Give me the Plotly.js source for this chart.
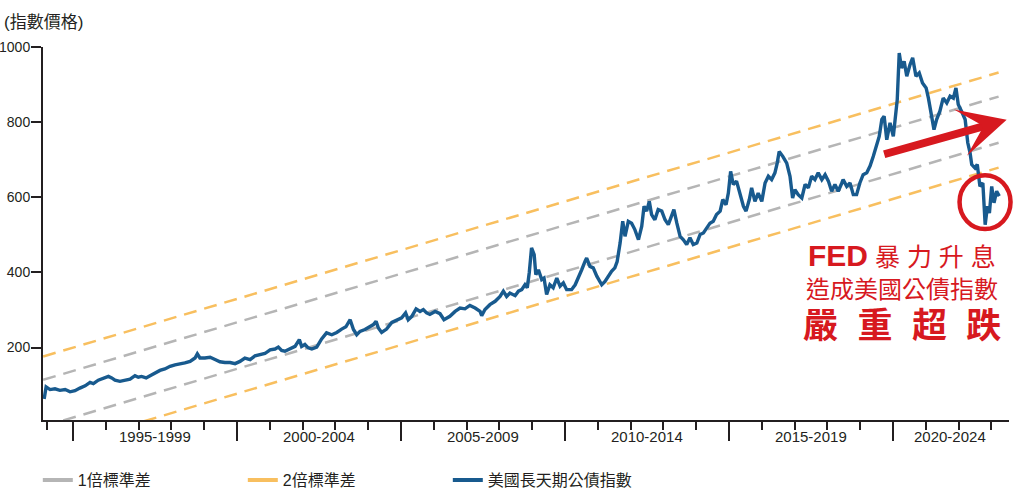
<!DOCTYPE html>
<html>
<head>
<meta charset="utf-8">
<script src="https://cdn.plot.ly/plotly-3.0.1.min.js"></script>
<style>html,body{margin:0;padding:0;background:#fff;}#chart{width:1022px;height:496px;}</style>
</head>
<body>
<div id="chart"></div>
<script>
// ---- data ----
const bondYears = [
1994.12,1994.18,1994.30,1994.45,1994.60,1994.76,1994.91,1995.06,1995.21,1995.37,1995.52,1995.62,1995.77,1995.92,
1996.08,1996.18,1996.28,1996.43,1996.59,1996.74,1996.89,1996.99,1997.09,1997.23,1997.35,1997.50,1997.65,1997.80,1997.96,
1998.11,1998.26,1998.41,1998.57,1998.72,1998.79,1998.87,1999.02,1999.18,1999.33,1999.48,1999.63,1999.79,1999.94,
2000.09,2000.24,2000.40,2000.55,2000.70,2000.85,2001.01,2001.16,2001.26,2001.36,2001.46,2001.62,2001.77,2001.90,2001.97,
2002.07,2002.17,2002.28,2002.43,2002.58,2002.73,2002.89,2003.04,2003.19,2003.32,2003.45,2003.55,2003.65,2003.75,2003.90,
2004.06,2004.16,2004.24,2004.31,2004.41,2004.56,2004.72,2004.87,2005.02,2005.14,2005.22,2005.33,2005.46,2005.58,2005.68,
2005.78,2005.88,2006.04,2006.19,2006.31,2006.44,2006.49,2006.65,2006.80,2006.95,2007.10,2007.26,2007.41,2007.46,2007.56,
2007.71,2007.87,2008.02,2008.12,2008.22,2008.32,2008.48,2008.58,2008.68,2008.78,2008.85,2008.91,2008.98,2009.06,2009.11,
2009.19,2009.29,2009.36,2009.44,2009.54,2009.64,2009.75,2009.85,2009.95,2010.05,2010.20,2010.31,2010.41,2010.51,2010.61,
2010.66,2010.76,2010.86,2010.97,2011.12,2011.22,2011.32,2011.42,2011.52,2011.59,2011.68,2011.76,2011.83,2011.93,2012.03,
2012.13,2012.24,2012.34,2012.41,2012.49,2012.57,2012.64,2012.74,2012.84,2012.95,2013.05,2013.15,2013.25,2013.32,2013.41,
2013.51,2013.61,2013.71,2013.81,2013.91,2014.02,2014.12,2014.22,2014.32,2014.42,2014.52,2014.62,2014.73,2014.81,2014.91,
2014.98,2015.05,2015.13,2015.23,2015.34,2015.44,2015.52,2015.62,2015.69,2015.79,2015.89,2016.00,2016.10,2016.20,2016.30,
2016.40,2016.47,2016.53,2016.64,2016.76,2016.86,2016.94,2017.01,2017.11,2017.22,2017.32,2017.42,2017.52,2017.62,2017.72,
2017.83,2017.93,2018.03,2018.13,2018.23,2018.33,2018.44,2018.48,2018.59,2018.69,2018.79,2018.89,2018.99,2019.09,2019.20,
2019.30,2019.40,2019.50,2019.58,2019.66,2019.73,2019.81,2019.91,2020.01,2020.06,2020.13,2020.19,2020.26,2020.34,2020.42,
2020.52,2020.60,2020.70,2020.80,2020.90,2021.01,2021.08,2021.18,2021.25,2021.33,2021.43,2021.53,2021.64,2021.74,2021.84,
2021.92,2021.99,2022.09,2022.20,2022.28,2022.35,2022.40,2022.50,2022.57,2022.65,2022.74,2022.81,2022.88,2022.94,2023.01,
2023.08,2023.16,2023.24
];
const bondIndex = [
63,95,88,90,86,88,82,85,92,98,107,104,113,119,
123,119,113,110,113,116,125,121,123,119,125,132,139,143,150,
154,156,159,163,172,183,172,172,174,168,162,160,160,157,
163,172,168,178,181,184,194,196,201,192,190,196,203,221,203,
208,199,196,201,223,239,234,240,249,255,274,248,234,243,248,
255,261,270,252,240,249,267,272,279,292,274,283,303,296,301,
292,288,296,290,274,279,283,296,305,303,312,305,296,285,301,
314,323,336,350,336,345,338,350,354,367,359,399,465,447,394,
407,381,385,341,367,359,385,363,372,354,354,367,390,407,429,
438,416,412,390,367,376,390,403,412,429,478,536,496,536,531,
514,487,523,576,563,589,554,540,567,563,540,527,554,567,531,
496,487,474,492,474,478,501,505,518,531,536,554,563,594,580,
611,669,634,643,607,576,563,594,625,589,611,589,638,656,647,
665,691,722,709,691,656,598,620,607,598,634,625,656,647,665,
647,660,643,616,634,616,638,647,629,638,607,607,638,660,665,
683,709,736,762,807,816,753,798,762,807,860,984,944,962,922,
953,971,922,931,904,891,864,807,780,807,829,864,851,869,864,
891,847,829,807,745,718,687,678,687,629,638,527,576,558,629,
585,616,603
];
// straight trend bands (start / end of the drawn span)
const bandYears = [1994.09, 2023.22];
const sd2Upper = [176, 932];
const sd1Upper = [114, 868];
const sd1Lower = [-10, 745];
const sd2Lower = [-76, 679];

const legendNames = ['1倍標準差', '2倍標準差', '美國長天期公債指數'];
const periodLabels = ['1995-1999', '2000-2004', '2005-2009', '2010-2014', '2015-2019', '2020-2024'];
const periodCenters = [1997.5, 2002.5, 2007.5, 2012.5, 2017.5, 2021.75];
const majorTicks = [1995, 2000, 2005, 2010, 2015, 2020];
const minorTicks = [1994.2, 1996, 1997, 1998, 1999, 2001, 2002, 2003, 2004, 2006, 2007, 2008, 2009,
  2011, 2012, 2013, 2014, 2016, 2017, 2018, 2019, 2021, 2022, 2023];
const yTicks = [200, 400, 600, 800, 1000];

// ---- styling ----
const FONT = 'Liberation Sans, "Noto Sans CJK TC", sans-serif';
const INK = '#231f20';
const GRAY = '#b5b5b5';
const ORANGE = '#f8bf5f';
const BLUE = '#185a8e';
const RED = '#d7191f';
const DASH = '13px,8px';

const traces = [
  {x: bandYears, y: sd2Upper, mode: 'lines', line: {color: ORANGE, width: 2.5, dash: DASH}, showlegend: false, hoverinfo: 'skip'},
  {x: bandYears, y: sd1Upper, mode: 'lines', line: {color: GRAY, width: 2.5, dash: DASH}, showlegend: false, hoverinfo: 'skip'},
  {x: bandYears, y: sd1Lower, mode: 'lines', line: {color: GRAY, width: 2.5, dash: DASH}, showlegend: false, hoverinfo: 'skip'},
  {x: bandYears, y: sd2Lower, mode: 'lines', line: {color: ORANGE, width: 2.5, dash: DASH}, showlegend: false, hoverinfo: 'skip'},
  {x: bondYears, y: bondIndex, mode: 'lines', line: {color: BLUE, width: 3.4}, showlegend: false},
  {x: [null], y: [null], mode: 'lines', name: legendNames[0], line: {color: GRAY, width: 4}},
  {x: [null], y: [null], mode: 'lines', name: legendNames[1], line: {color: ORANGE, width: 4}},
  {x: [null], y: [null], mode: 'lines', name: legendNames[2], line: {color: BLUE, width: 4}}
];

const annotations = periodLabels.map((t, i) => ({
  text: t, x: periodCenters[i], xref: 'x', y: -0.044, yref: 'paper',
  xanchor: 'center', yanchor: 'middle', showarrow: false,
  font: {family: FONT, size: 15, color: INK}
}));
annotations.push({
  text: '(指數價格)', x: (2 - 43) / 966, xref: 'paper', xanchor: 'left',
  y: (420.5 - 23) / 373.2, yref: 'paper', yanchor: 'middle',
  showarrow: false, font: {family: FONT, size: 17, color: INK}
});
annotations.push({
  text: '<b>FED</b><span style="font-size:25px"> 暴 力 升 息</span>',
  x: 0.8897, xref: 'paper', y: 0.4408, yref: 'paper', xanchor: 'center', yanchor: 'middle',
  showarrow: false, font: {family: FONT, size: 30, color: RED}
});
annotations.push({
  text: '造成美國公債指數',
  x: 0.8897, xref: 'paper', y: 0.3497, yref: 'paper', xanchor: 'center', yanchor: 'middle',
  showarrow: false, font: {family: FONT, size: 24, color: RED}
});
annotations.push({
  text: '<b>嚴  重  超  跌</b>',
  x: 0.8897, xref: 'paper', y: 0.2532, yref: 'paper', xanchor: 'center', yanchor: 'middle',
  showarrow: false, font: {family: FONT, size: 35, color: RED}
});
annotations.push({
  text: '', x: 0.9976, xref: 'paper', y: 0.8052, yref: 'paper',
  showarrow: true, ax: -124, ay: 35, axref: 'pixel', ayref: 'pixel',
  arrowhead: 3, arrowwidth: 8, arrowsize: 1.0, arrowcolor: RED, standoff: 0
});

const layout = {
  width: 1022, height: 496,
  margin: {l: 43, r: 13, t: 47, b: 76, pad: 0},
  paper_bgcolor: '#ffffff', plot_bgcolor: '#ffffff',
  font: {family: FONT, size: 14, color: INK},
  showlegend: true,
  legend: {
    orientation: 'h', xref: 'container', yref: 'container', x: 0.037, y: 0.032,
    xanchor: 'left', yanchor: 'middle', entrywidth: 160, entrywidthmode: 'pixels',
    font: {family: FONT, size: 16, color: INK}, bgcolor: 'rgba(0,0,0,0)'
  },
  xaxis: {
    range: [1994.085, 2023.537], showgrid: false, zeroline: false,
    showline: true, linecolor: INK, linewidth: 2,
    tickmode: 'array', tickvals: majorTicks, showticklabels: false,
    ticks: 'outside', ticklen: 19, tickwidth: 2, tickcolor: INK,
    minor: {tickmode: 'array', tickvals: minorTicks, ticks: 'outside', ticklen: 8, tickwidth: 2, tickcolor: INK, showgrid: false}
  },
  yaxis: {
    range: [7, 1000], showgrid: false, zeroline: false,
    showline: true, linecolor: INK, linewidth: 2,
    tickmode: 'array', tickvals: yTicks,
    ticks: 'outside', ticklen: 10, tickwidth: 2, tickcolor: INK,
    ticklabelstandoff: -2,
    tickfont: {family: FONT, size: 14, color: INK}
  },
  shapes: [{
    type: 'circle', xref: 'paper', yref: 'paper',
    x0: 0.9488, x1: 1.0016, y0: 0.5118, y1: 0.6565,
    line: {color: RED, width: 4.5}, fillcolor: 'rgba(0,0,0,0)', layer: 'above'
  }],
  annotations: annotations
};

Plotly.newPlot('chart', traces, layout, {displayModeBar: false, staticPlot: true});
</script>
</body>
</html>
